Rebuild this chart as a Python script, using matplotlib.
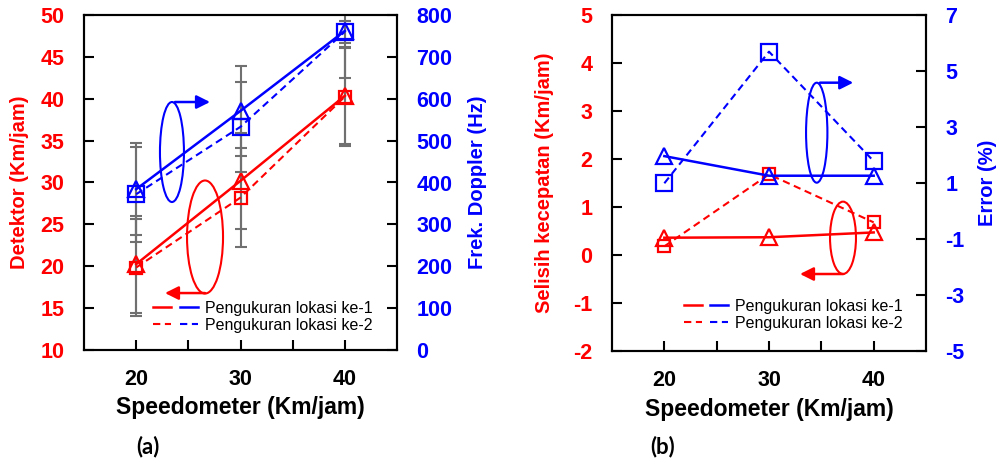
import matplotlib
matplotlib.use('Agg')
import matplotlib.pyplot as plt
from matplotlib.patches import Ellipse
from matplotlib.lines import Line2D
from matplotlib.legend_handler import HandlerTuple

plt.rcParams['font.family'] = ['Liberation Sans', 'DejaVu Sans']
plt.rcParams['font.weight'] = 'bold'
plt.rcParams['axes.labelweight'] = 'bold'
plt.rcParams['axes.unicode_minus'] = False

# ---------------- data ----------------
speed = [20, 30, 40]
x_minor = [25, 35]

# panel (a)
det_lok1 = [20.25, 30.2, 40.35]
det_lok2 = [19.85, 28.2, 40.25]
det_err_lok1 = [5.8, 5.7, 5.7]
det_err_lok2 = [5.85, 5.9, 5.9]
freq_lok1 = [384, 571, 762]
freq_lok2 = [372, 533, 760]
freq_err_lok1 = [110, 108, 112]
freq_err_lok2 = [113, 108, 26]

# panel (b)
selisih_lok1 = [0.36, 0.37, 0.47]
selisih_lok2 = [0.18, 1.68, 0.68]
error_lok1 = [1.96, 1.26, 1.26]
error_lok2 = [0.99, 5.69, 1.78]

det_ticks = [10, 15, 20, 25, 30, 35, 40, 45, 50]
freq_ticks = [0, 100, 200, 300, 400, 500, 600, 700, 800]
sel_ticks = [-2, -1, 0, 1, 2, 3, 4, 5]
err_ticks = [-5, -3, -1, 1, 3, 5, 7]

legend_labels = ['Pengukuran lokasi ke-1', 'Pengukuran lokasi ke-2']

RED = '#FF0000'
BLUE = '#0000FF'
GRAY = '#707070'
DASH = (0, (3.5, 2.2))
TS = 15.5
LS = 14.5

fig = plt.figure(figsize=(10.02, 4.65), dpi=100)
axa = fig.add_axes([84/1002, 115/465, 313/1002, 335/465])
axb = fig.add_axes([612/1002, 114/465, 314/1002, 336/465])


def style(ax, ax2, lcol, rcol):
    for a in (ax, ax2):
        for s in a.spines.values():
            s.set_linewidth(1.5)
    ax.set_xlim(15, 45)
    ax.set_xticks(speed)
    ax.set_xticks(x_minor, minor=True)
    ax.tick_params(axis='x', which='both', direction='in', length=7, width=1.5,
                   pad=14, labelsize=TS, top=False)
    ax.tick_params(axis='y', which='both', direction='in', length=7, width=1.5,
                   pad=14, labelsize=TS, labelcolor=lcol, right=False)
    ax2.tick_params(axis='y', which='both', direction='in', length=7, width=1.5,
                    pad=14, labelsize=TS, labelcolor=rcol, left=False)
    ax.set_xlabel('Speedometer (Km/jam)', fontsize=16.5)
    ax.xaxis.set_label_coords(0.5, -0.173)
    ax.xaxis.label.set_va('center')


def legend(ax, anchor):
    h1 = (Line2D([], [], color=RED, lw=1.8), Line2D([], [], color=BLUE, lw=1.8))
    h2 = (Line2D([], [], color=RED, lw=1.5, ls=DASH), Line2D([], [], color=BLUE, lw=1.5, ls=DASH))
    ax.legend([h1, h2], legend_labels, handler_map={tuple: HandlerTuple(ndivide=None, pad=0.55)},
              loc='lower right', bbox_to_anchor=anchor, frameon=False, borderpad=0,
              borderaxespad=0, handlelength=2.8, handletextpad=0.45, labelspacing=0.12,
              prop={'family': 'Liberation Sans', 'weight': 'normal', 'size': 11.5})


def arrow(ax, start, end, col):
    ax.annotate('', xy=end, xytext=start,
                arrowprops=dict(arrowstyle='-|>', color=col, lw=1.8, mutation_scale=20,
                                shrinkA=0, shrinkB=0))


def ebar(ax, y, err):
    ax.errorbar(speed, y, yerr=err, fmt='none', ecolor=GRAY, elinewidth=1.5,
                capsize=4, capthick=1.5, zorder=1)


# ---------------- panel (a) ----------------
axa2 = axa.twinx()
axa2.set_zorder(axa.get_zorder() + 1)
axa.set_ylim(10, 50)
axa.set_yticks(det_ticks)
axa2.set_ylim(0, 800)
axa2.set_yticks(freq_ticks)
style(axa, axa2, RED, BLUE)

ebar(axa, det_lok1, det_err_lok1)
ebar(axa, det_lok2, det_err_lok2)
ebar(axa2, freq_lok1, freq_err_lok1)
ebar(axa2, freq_lok2, freq_err_lok2)

axa.plot(speed, det_lok2, color=RED, lw=1.5, ls=DASH, marker='s', ms=9, mfc='none', mew=1.6, zorder=3)
axa.plot(speed, det_lok1, color=RED, lw=1.8, marker='^', ms=11, mfc='none', mew=1.6, zorder=3)
axa2.plot(speed, freq_lok2, color=BLUE, lw=1.5, ls=DASH, marker='s', ms=11, mfc='none', mew=1.6, zorder=3)
axa2.plot(speed, freq_lok1, color=BLUE, lw=1.8, marker='^', ms=11, mfc='none', mew=1.6, zorder=3)

axa.set_ylabel('Detektor (Km/jam)', color=RED, fontsize=LS)
axa.yaxis.set_label_coords(-0.205, 0.5)
axa.yaxis.label.set_va('center')
axa2.set_ylabel('Frek. Doppler (Hz)', color=BLUE, fontsize=LS)
axa2.yaxis.set_label_coords(1.256, 0.5)
axa2.yaxis.label.set_va('center')

# annotation ellipses / arrows (left-axis data units)
axa.add_patch(Ellipse((23.43, 33.64), 2.3, 11.94, fill=False, edgecolor=BLUE, lw=1.5, zorder=4))
arrow(axa, (23.72, 39.61), (27.08, 39.61), BLUE)
axa.add_patch(Ellipse((26.6, 23.49), 3.45, 13.5, fill=False, edgecolor=RED, lw=1.5, zorder=4))
arrow(axa, (26.6, 16.8), (22.76, 16.8), RED)

legend(axa2, (0.923, 0.051))

# ---------------- panel (b) ----------------
axb2 = axb.twinx()
axb2.set_zorder(axb.get_zorder() + 1)
axb.set_ylim(-2, 5)
axb.set_yticks(sel_ticks)
axb2.set_ylim(-5, 7)
axb2.set_yticks(err_ticks)
style(axb, axb2, RED, BLUE)

axb.plot(speed, selisih_lok2, color=RED, lw=1.5, ls=DASH, marker='s', ms=9, mfc='none', mew=1.6, zorder=3)
axb.plot(speed, selisih_lok1, color=RED, lw=1.8, marker='^', ms=11, mfc='none', mew=1.6, zorder=3)
axb2.plot(speed, error_lok2, color=BLUE, lw=1.5, ls=DASH, marker='s', ms=11, mfc='none', mew=1.6, zorder=3)
axb2.plot(speed, error_lok1, color=BLUE, lw=1.8, marker='^', ms=11, mfc='none', mew=1.6, zorder=3)

axb.set_ylabel('Selisih kecepatan (Km/jam)', color=RED, fontsize=LS)
axb.yaxis.set_label_coords(-0.215, 0.5)
axb.yaxis.label.set_va('center')
axb2.set_ylabel('Error (%)', color=BLUE, fontsize=LS)
axb2.yaxis.set_label_coords(1.197, 0.5)
axb2.yaxis.label.set_va('center')

axb.add_patch(Ellipse((34.56, 2.548), 2.04, 2.083, fill=False, edgecolor=BLUE, lw=1.5, zorder=4))
arrow(axb, (34.87, 3.59), (38.05, 3.59), BLUE)
axb.add_patch(Ellipse((37.07, 0.358), 2.48, 1.507, fill=False, edgecolor=RED, lw=1.5, zorder=4))
arrow(axb, (37.1, -0.396), (32.96, -0.396), RED)

legend(axb2, (0.927, 0.06))

fig.text(148/1002, 18/465, '(a)', fontsize=16, fontweight='bold', family=['Lato', 'DejaVu Sans'],
         ha='center', va='center')
fig.text(663/1002, 18/465, '(b)', fontsize=16, fontweight='bold', family=['Lato', 'DejaVu Sans'],
         ha='center', va='center')

fig.savefig('out.png', dpi=100)
